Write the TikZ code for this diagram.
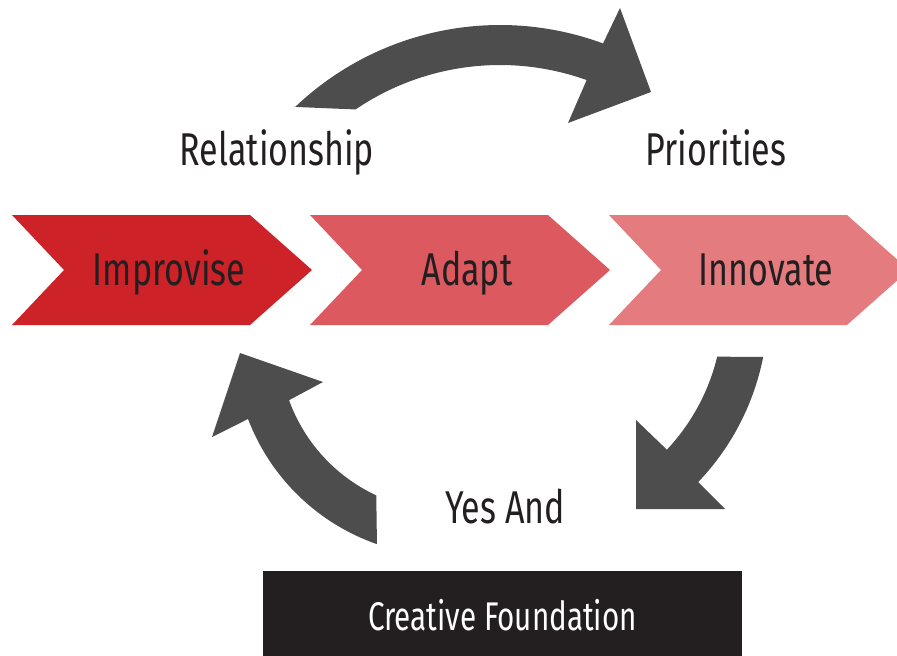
\documentclass[tikz,border=0pt]{standalone}
\usepackage{fontspec}
\setmainfont{Fira Sans}[FakeStretch=0.74]
\usetikzlibrary{calc}
\definecolor{improvred}{RGB}{206,34,41}
\definecolor{adaptred}{RGB}{220,89,95}
\definecolor{innovred}{RGB}{228,123,126}
\definecolor{arrowgray}{RGB}{77,77,77}
\definecolor{inkdark}{RGB}{35,31,32}
\begin{document}
\begin{tikzpicture}[x=1pt, y=-1pt,
    word/.style = {text=inkdark, font=\fontsize{46}{50}\selectfont, inner sep=0pt, anchor=base},
    cyclearrow/.style = {fill=arrowgray}]
	\useasboundingbox (0,0) rectangle (897,656);
	\clip (0,0) rectangle (897,656);
	% three chevrons in a row
	\foreach \x/\col/\txt/\nm in {12/improvred/Improvise/improvise, 310/adaptred/Adapt/adapt, 609/innovred/Innovate/innovate} {
		\fill[\col] (\x,215) -- ++(238,0) -- ++(62,55) -- ++(-62,55) -- ++(-238,0) -- ++(52,-55) -- cycle;
		\node[word] (\nm) at (\x+157,285) {\txt};
	}
	\node[word] (relationship) at (277,165) {Relationship};
	\node[word] (priorities) at (716,165) {Priorities};
	\node[word] (yesand) at (505,523) {Yes And};
	\node[fill=inkdark, text=white, font=\fontsize{40}{44}\selectfont, minimum width=479pt, minimum height=90pt, text height=28pt, text depth=0pt, inner sep=0pt] (foundation) at (502.5,616) {Creative Foundation};
	% curved arrows round the cycle
	\coordinate (topc) at (500,322);
	\coordinate (leftc) at (447,343);
	\coordinate (rightc) at (516,308);
	\fill[cyclearrow] ($(topc)+(-133.6:297)$) arc[start angle=-133.6, end angle=-69.7, radius=297]
		-- (620,8) -- (651,92) -- (568,123) -- ($(topc)+(-70.3:257)$)
		arc[start angle=-70.3, end angle=-124.2, radius=257] -- cycle;
	\fill[cyclearrow] ($(rightc)+(11.2:252)$) arc[start angle=11.2, end angle=43.7, radius=252]
		-- (725,509) -- (636,509) -- (636,420) -- ($(rightc)+(43.2:207)$)
		arc[start angle=43.2, end angle=13.6, radius=207] -- cycle;
	\fill[cyclearrow] ($(leftc)+(109.2:213)$) arc[start angle=109.2, end angle=159.1, radius=213]
		-- (212,437) -- (240,353) -- (323,382) -- ($(leftc)+(160.1:168)$)
		arc[start angle=160.1, end angle=114.9, radius=168] -- cycle;
\end{tikzpicture}
\end{document}
